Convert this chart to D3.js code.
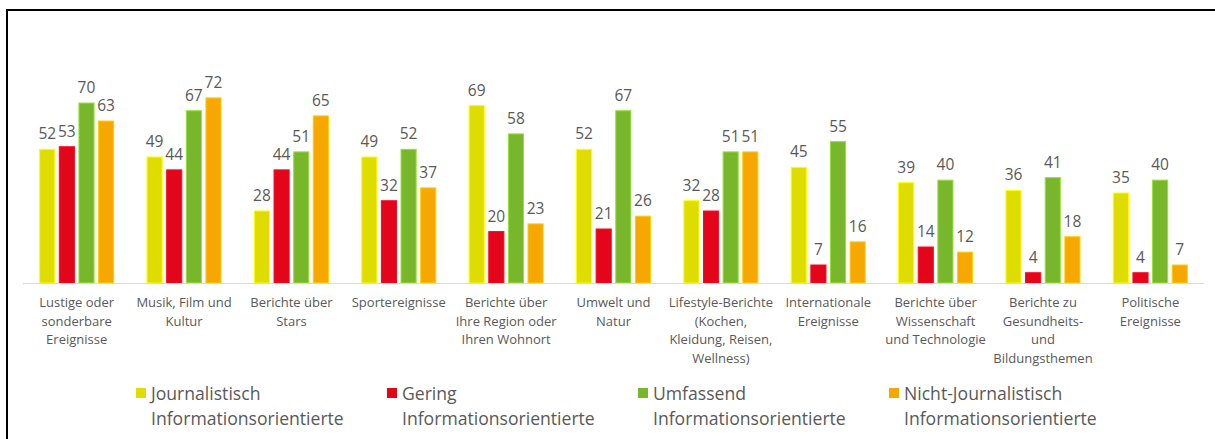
<!DOCTYPE html>
<html>
<head>
<meta charset="utf-8">
<script src="https://cdn.jsdelivr.net/npm/d3@7"></script>
<style>
    body { margin: 0; background: #fff; }
    svg text { font-family: "Open Sans", "DejaVu Sans", sans-serif; fill: #595959; }
</style>
</head>
<body>
<div id="chart"></div>
<script>
// categories (each line of the wrapped axis label)
const categories = [
    ['Lustige oder', 'sonderbare', 'Ereignisse'],
    ['Musik, Film und', 'Kultur'],
    ['Berichte über', 'Stars'],
    ['Sportereignisse'],
    ['Berichte über', 'Ihre Region oder', 'Ihren Wohnort'],
    ['Umwelt und', 'Natur'],
    ['Lifestyle-Berichte', '(Kochen,', 'Kleidung, Reisen,', 'Wellness)'],
    ['Internationale', 'Ereignisse'],
    ['Berichte über', 'Wissenschaft', 'und Technologie'],
    ['Berichte zu', 'Gesundheits-', 'und', 'Bildungsthemen'],
    ['Politische', 'Ereignisse']
];

const seriesNames = [
    ['Journalistisch', 'Informationsorientierte'],
    ['Gering', 'Informationsorientierte'],
    ['Umfassend', 'Informationsorientierte'],
    ['Nicht-Journalistisch', 'Informationsorientierte']
];
const seriesColors = ['#dedc00', '#e3061b', '#78b72b', '#f6a800'];

const journalistisch = [52, 49, 28, 49, 69, 52, 32, 45, 39, 36, 35];
const gering = [53, 44, 44, 32, 20, 21, 28, 7, 14, 4, 4];
const umfassend = [70, 67, 51, 52, 58, 67, 51, 55, 40, 41, 40];
const nichtJournalistisch = [63, 72, 65, 37, 23, 26, 51, 16, 12, 18, 7];

const seriesValues = [journalistisch, gering, umfassend, nichtJournalistisch];

const width = 1215, height = 439;
const svg = d3.select('#chart').append('svg')
    .attr('width', width)
    .attr('height', height);

// frame
svg.append('rect')
    .attr('x', 7)
    .attr('y', 10)
    .attr('width', 1220)
    .attr('height', 440)
    .attr('fill', 'none')
    .attr('stroke', '#000')
    .attr('stroke-width', 2);

const catKeys = categories.map((c, i) => i);
const x0 = d3.scaleBand()
    .domain(catKeys)
    .range([23, 1204])
    .padding(0);

const groupWidth = 74;
const x1 = d3.scaleBand()
    .domain(d3.range(seriesValues.length))
    .range([0, groupWidth])
    .paddingInner(0.23);

const y = d3.scaleLinear()
    .domain([0, 80])
    .range([283, 283 - 80 * 2.571]);

const groups = svg.selectAll('.group')
    .data(catKeys)
    .enter()
    .append('g')
    .attr('class', 'group')
    .attr('transform', i => `translate(${x0(i) + (x0.bandwidth() - groupWidth) / 2},0)`);

groups.selectAll('rect')
    .data(i => seriesValues.map((vals, s) => ({ s, v: vals[i] })))
    .enter()
    .append('rect')
    .attr('x', d => x1(d.s))
    .attr('y', d => y(d.v))
    .attr('width', x1.bandwidth())
    .attr('height', d => y(0) - y(d.v))
    .attr('fill', d => seriesColors[d.s])
    .attr('stroke', d => d3.color(seriesColors[d.s]).brighter(0.6))
    .attr('stroke-width', 1);

groups.selectAll('.val')
    .data(i => seriesValues.map((vals, s) => ({ s, v: vals[i] })))
    .enter()
    .append('text')
    .attr('class', 'val')
    .attr('x', d => x1(d.s) + x1.bandwidth() / 2)
    .attr('y', d => y(d.v) - 10)
    .attr('text-anchor', 'middle')
    .style('font-size', '15.5px')
    .text(d => d.v);

// axis baseline
svg.append('line')
    .attr('x1', 23)
    .attr('x2', 1204)
    .attr('y1', y(0) + 0.5)
    .attr('y2', y(0) + 0.5)
    .attr('stroke', '#d9d9d9')
    .attr('stroke-width', 1);

// category labels
const catLabels = svg.selectAll('.cat')
    .data(catKeys)
    .enter()
    .append('text')
    .attr('class', 'cat')
    .attr('text-anchor', 'middle')
    .style('font-size', '13px');

catLabels.selectAll('tspan')
    .data(i => categories[i].map(line => ({ i, line })))
    .enter()
    .append('tspan')
    .attr('x', d => x0(d.i) + x0.bandwidth() / 2)
    .attr('y', (d, k) => 307 + k * 18.7)
    .text(d => d.line);

// legend
const legend = svg.selectAll('.legend')
    .data(seriesNames)
    .enter()
    .append('g')
    .attr('class', 'legend')
    .attr('transform', (d, i) => `translate(${136 + i * 251},0)`);

legend.append('rect')
    .attr('x', 0)
    .attr('y', 388)
    .attr('width', 10)
    .attr('height', 10)
    .attr('fill', (d, i) => seriesColors[i]);

legend.append('text')
    .style('font-size', '17.6px')
    .selectAll('tspan')
    .data(d => d)
    .enter()
    .append('tspan')
    .attr('x', 15)
    .attr('y', (d, k) => 400 + k * 24.5)
    .text(d => d);
</script>
</body>
</html>
